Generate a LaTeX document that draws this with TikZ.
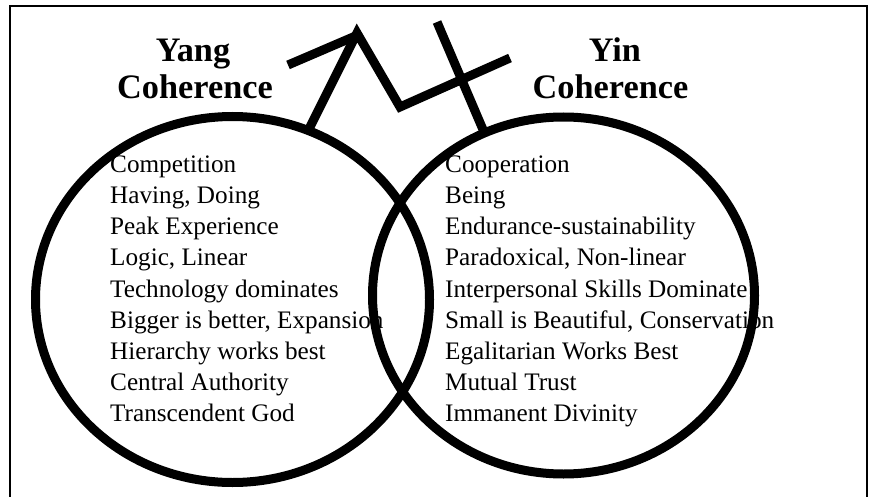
\documentclass[tikz,border=0pt]{standalone}
\usepackage{fontspec}
\setmainfont{Liberation Serif}
\usetikzlibrary{calc}
\begin{document}
\begin{tikzpicture}[x=1pt,y=-1pt,
  ring/.style={line width=9pt},
  symline/.style={line width=9pt,line join=miter,line cap=butt},
  frameline/.style={line width=2pt},
  title/.style={font=\fontsize{34.3}{40}\selectfont\bfseries,anchor=base,inner sep=0pt},
  item/.style={font=\fontsize{25.2}{30}\selectfont,anchor=base west,inner sep=0pt}]
\useasboundingbox (0,0) rectangle (872,497);
\draw[frameline] (10,505) -- (10,6.5) -- (867,6.5) -- (867,505);
% titles
\node[title] (yang) at (193,61.7) {Yang};
\node[title] (yangc) at (195,98.3) {Coherence};
\node[title] (yin) at (615,61.7) {Yin};
\node[title] (yinc) at (610.5,98.3) {Coherence};
% items
\foreach \t [count=\i from 0] in {Competition,{Having, Doing},Peak Experience,{Logic, Linear},Technology dominates,{Bigger is better, Expansion},Hierarchy works best,Central Authority,Transcendent God}
  \node[item] (l\i) at (110,172.3+\i*31.2) {\t};
\foreach \t [count=\i from 0] in {Cooperation,Being,Endurance-sustainability,{Paradoxical, Non-linear},Interpersonal Skills Dominate,{Small is Beautiful, Conservation},Egalitarian Works Best,Mutual Trust,Immanent Divinity}
  \node[item] (r\i) at (445,172.3+\i*31.2) {\t};
% circles
\coordinate (cl) at (232.5,299.5);
\coordinate (cr) at (563.5,295.5);
\draw[ring] (cl) ellipse [x radius=197, y radius=183];
\draw[ring] (cr) ellipse [x radius=191, y radius=178.5];
% symbol
\coordinate (lfoot) at (307,133);
\coordinate (apex) at (357,33);
\coordinate (barb) at (288,65);
\coordinate (vee) at (400,107);
\coordinate (arm) at (510,58);
\coordinate (ctop) at (437,22);
\coordinate (rfoot) at (484,132);
\draw[symline] (lfoot) -- (apex) -- (vee) -- (arm);
\draw[symline] (barb) -- ($(apex)+(2,1.5)$);
\draw[symline] (ctop) -- (rfoot);
\end{tikzpicture}
\end{document}
